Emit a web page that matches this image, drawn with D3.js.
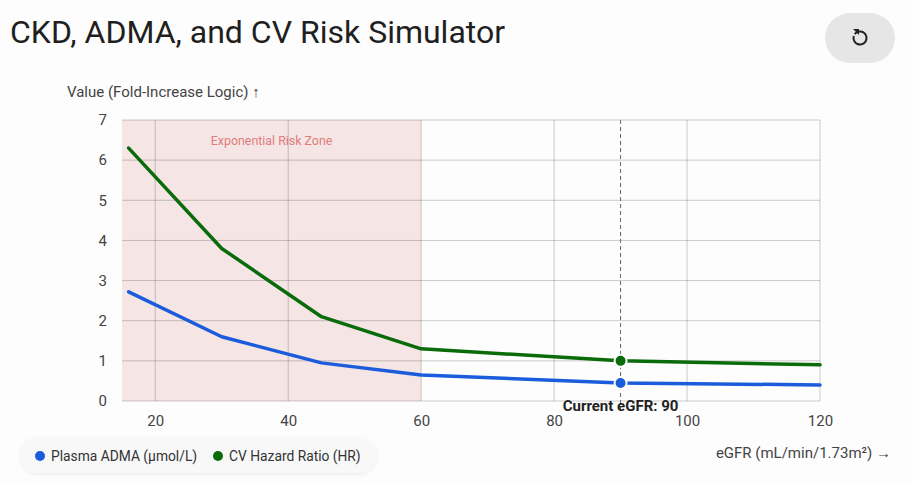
<!DOCTYPE html>
<html>
<head>
<meta charset="utf-8">
<script src="https://cdn.jsdelivr.net/npm/d3@7"></script>
<style>
  html, body { margin: 0; padding: 0; background: #fdfdfd; }
  body { width: 913px; height: 483px; overflow: hidden; font-family: Roboto, "Open Sans", sans-serif; }
</style>
</head>
<body>
<svg id="chart" width="913" height="483"></svg>
<script>
// ---------------------------------- Data ----------------------------------
const egfr = [16, 30, 45, 60, 90, 120];
const admaValues = [2.72, 1.6, 0.95, 0.65, 0.45, 0.4];
const hrValues = [6.3, 3.8, 2.1, 1.3, 1.0, 0.9];
const xTicks = [20, 40, 60, 80, 100, 120];
const yTicks = [0, 1, 2, 3, 4, 5, 6, 7];
const riskZone = [15, 60];
const currentEgfr = 90;
const seriesNames = ["Plasma ADMA (µmol/L)", "CV Hazard Ratio (HR)"];
const seriesColors = ["#1a5cdb", "#096b09"];

// ---------------------------------- Layout ----------------------------------
const margin = { top: 120, right: 93, bottom: 82, left: 122 },
    width = 913 - margin.left - margin.right,
    height = 483 - margin.top - margin.bottom;

const svg = d3.select("#chart");

// title + reset button
svg.append("text")
    .attr("x", 10).attr("y", 43)
    .attr("font-size", 32).attr("fill", "#1f1f1f")
    .text("CKD, ADMA, and CV Risk Simulator");

svg.append("rect")
    .attr("x", 825).attr("y", 13).attr("width", 70).attr("height", 50)
    .attr("rx", 25).attr("fill", "#e6e6e6");
// circular arrow icon
const icon = svg.append("g").attr("transform", "translate(860,38)");
icon.append("path")
    .attr("d", d3.arc()({ innerRadius: 5.5, outerRadius: 7.5, startAngle: -Math.PI * 0.3, endAngle: Math.PI * 1.6 }))
    .attr("fill", "#222");
icon.append("path")
    .attr("d", "M-7,-9 L-1,-9 L-1,-3 Z")
    .attr("fill", "#222");

const g = svg.append("g")
    .attr("transform", "translate(" + margin.left + "," + margin.top + ")");

const x = d3.scaleLinear().domain([15, 120]).range([0, width]);
const y = d3.scaleLinear().domain([0, 7]).range([height, 0]);

// risk zone
g.append("rect")
    .attr("x", x(riskZone[0]))
    .attr("y", 0)
    .attr("width", x(riskZone[1]) - x(riskZone[0]))
    .attr("height", height)
    .attr("fill", "#f5e5e5");

g.append("text")
    .attr("x", (x(riskZone[0]) + x(riskZone[1])) / 2)
    .attr("y", 25)
    .attr("text-anchor", "middle")
    .attr("font-size", 12.4).attr("fill", "#e07d7d")
    .text("Exponential Risk Zone");

// grid
g.selectAll(".hgrid")
    .data(yTicks)
    .enter().append("line")
    .attr("x1", 0).attr("x2", width)
    .attr("y1", function (d) { return y(d); })
    .attr("y2", function (d) { return y(d); })
    .attr("stroke", "rgba(0,0,0,0.2)");

g.selectAll(".vgrid")
    .data(xTicks)
    .enter().append("line")
    .attr("y1", 0).attr("y2", height)
    .attr("x1", function (d) { return x(d); })
    .attr("x2", function (d) { return x(d); })
    .attr("stroke", "rgba(0,0,0,0.2)");

// axes (labels only)
const xAxis = g.append("g")
    .attr("transform", "translate(0," + height + ")")
    .call(d3.axisBottom(x).tickValues(xTicks).tickSize(0).tickPadding(14));
const yAxis = g.append("g")
    .call(d3.axisLeft(y).tickValues(yTicks).tickFormat(d3.format("d")).tickSize(0).tickPadding(15));
[xAxis, yAxis].forEach(function (a) {
    a.select(".domain").remove();
    a.selectAll("text").attr("font-size", 15).attr("fill", "#444")
        .attr("font-family", "Roboto, sans-serif");
});

svg.append("text")
    .attr("x", 67).attr("y", 97)
    .attr("font-size", 15).attr("fill", "#444")
    .text("Value (Fold-Increase Logic) ↑");

svg.append("text")
    .attr("x", 891).attr("y", 458).attr("text-anchor", "end")
    .attr("font-size", 15).attr("fill", "#444")
    .text("eGFR (mL/min/1.73m²) →");

// current eGFR marker
g.append("line")
    .attr("x1", x(currentEgfr)).attr("x2", x(currentEgfr))
    .attr("y1", 0).attr("y2", height + 8)
    .attr("stroke", "#666").attr("stroke-dasharray", "4,3");

// lines
const series = [admaValues, hrValues];
const line = d3.line()
    .x(function (d, i) { return x(egfr[i]); })
    .y(function (d) { return y(d); });

series.forEach(function (vals, s) {
    g.append("path")
        .datum(vals)
        .attr("d", line)
        .attr("fill", "none")
        .attr("stroke", seriesColors[s])
        .attr("stroke-width", 3.5)
        .attr("stroke-linejoin", "round")
        .attr("stroke-linecap", "round");

    const idx = egfr.indexOf(currentEgfr);
    g.append("circle")
        .attr("cx", x(currentEgfr))
        .attr("cy", y(vals[idx]))
        .attr("r", 6)
        .attr("fill", seriesColors[s])
        .attr("stroke", "#fff")
        .attr("stroke-width", 2);
});

g.append("text")
    .attr("x", x(currentEgfr))
    .attr("y", height + 10)
    .attr("text-anchor", "middle")
    .attr("font-size", 15).attr("font-weight", "bold").attr("fill", "#222")
    .text("Current eGFR: " + currentEgfr);

// legend
const defs = svg.append("defs");
const filter = defs.append("filter").attr("id", "shadow")
    .attr("x", "-10%").attr("y", "-40%").attr("width", "120%").attr("height", "180%");
filter.append("feDropShadow")
    .attr("dx", 0).attr("dy", 1).attr("stdDeviation", 2)
    .attr("flood-color", "#000").attr("flood-opacity", 0.08);

svg.append("rect")
    .attr("x", 21).attr("y", 438).attr("width", 355).attr("height", 35)
    .attr("rx", 17).attr("fill", "#f8f8f8")
    .attr("filter", "url(#shadow)");

const legendX = [40, 218];
seriesNames.forEach(function (name, s) {
    svg.append("circle")
        .attr("cx", legendX[s]).attr("cy", 456).attr("r", 5)
        .attr("fill", seriesColors[s]);
    svg.append("text")
        .attr("x", legendX[s] + 11).attr("y", 461)
        .attr("font-size", 13.8).attr("fill", "#333")
        .text(name);
});
</script>
</body>
</html>
